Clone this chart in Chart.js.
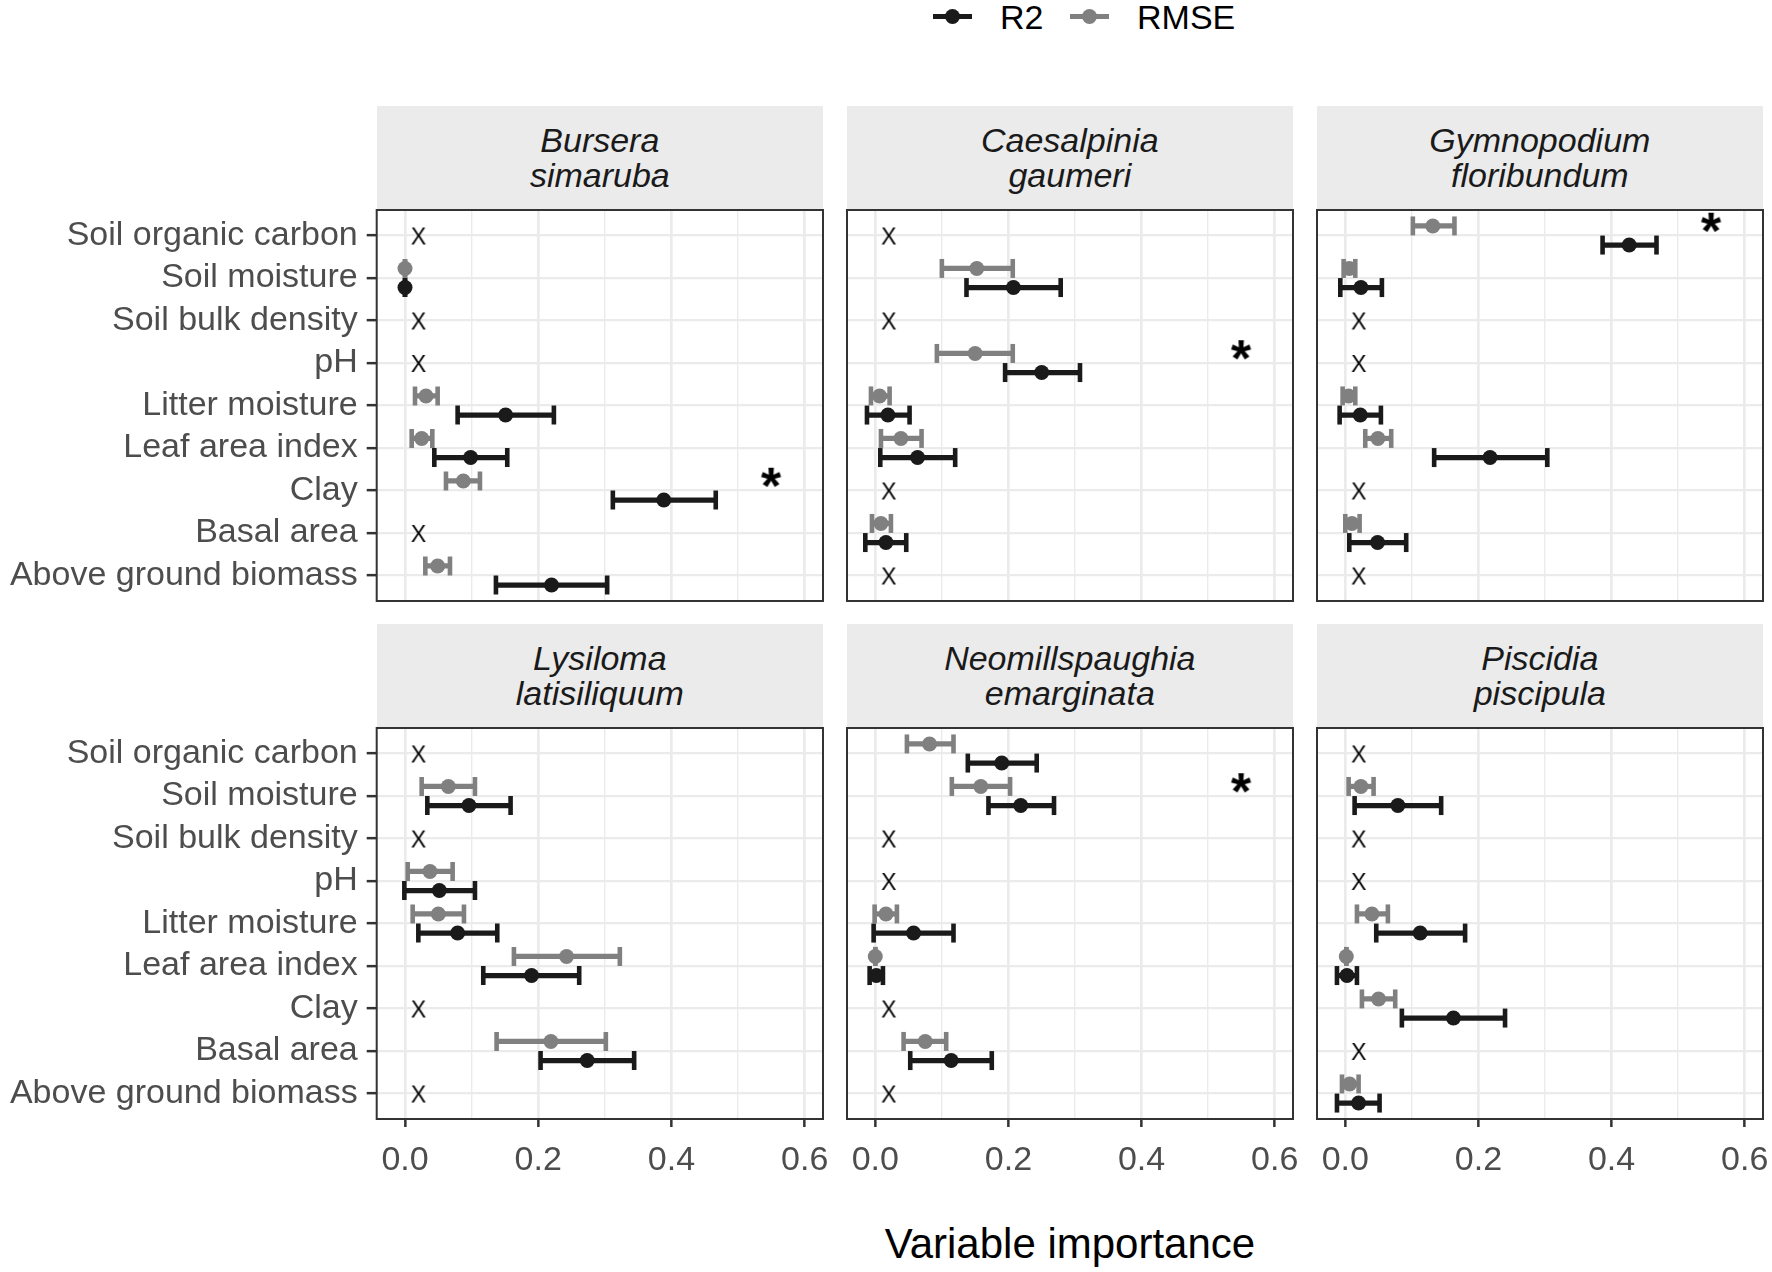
<!DOCTYPE html>
<html>
<head>
<meta charset="utf-8">
<script src="https://cdn.jsdelivr.net/npm/chart.js@4.4.1/dist/chart.umd.min.js"></script>
<style>
  body { margin: 0; background: #fff; font-family: "Liberation Sans", Arial, sans-serif; }
  #page { position: relative; width: 1772px; height: 1272px; overflow: hidden; background: #fff; }
  .strip { position: absolute; background: #ebebeb; color: #1a1a1a; font-style: italic; font-size: 34px;
           line-height: 35px; text-align: center; box-sizing: border-box; padding-top: 17px; }
  .box { position: absolute; }
  .key { position: absolute; top: 16px; width: 39px; height: 0; }
  .key i { position: absolute; left: 0; top: -2.5px; width: 39px; height: 5px; }
  .key b { position: absolute; left: 12px; top: -7.5px; width: 15px; height: 15px; border-radius: 50%; }
  .lab { position: absolute; top: 0; font-size: 34px; line-height: 34px; color: #000; }
  #xtitle { position: absolute; left: 0; width: 2140px; top: 1219px; font-size: 42px; line-height: 50px;
            text-align: center; color: #000; }
</style>
</head>
<body>
<div id="page">
  <div class="key" style="left:933px"><i style="background:#1a1a1a"></i><b style="background:#1a1a1a"></b></div>
  <span class="lab" style="left:1000px">R2</span>
  <div class="key" style="left:1070px"><i style="background:#808080"></i><b style="background:#808080"></b></div>
  <span class="lab" style="left:1137px">RMSE</span>
  <div id="xtitle">Variable importance</div>
</div>
<script>
// variables, top to bottom
const variables = ['Soil organic carbon', 'Soil moisture', 'Soil bulk density', 'pH', 'Litter moisture',
  'Leaf area index', 'Clay', 'Basal area', 'Above ground biomass'];

const species = [['Bursera', 'simaruba'], ['Caesalpinia', 'gaumeri'], ['Gymnopodium', 'floribundum'],
  ['Lysiloma', 'latisiliquum'], ['Neomillspaughia', 'emarginata'], ['Piscidia', 'piscipula']];

// null = variable not selected (drawn as X)
const r2Mean = [
  [null, 0.0, null, null, 0.151, 0.0985, 0.3885, null, 0.22],
  [null, 0.2075, null, 0.25, 0.019, 0.0635, null, 0.016, null],
  [0.4265, 0.0235, null, null, 0.0225, 0.2175, null, 0.0485, null],
  [null, 0.096, null, 0.0515, 0.079, 0.19, null, 0.2735, null],
  [0.19, 0.2185, null, null, 0.0575, 0.0015, null, 0.114, null],
  [null, 0.079, null, null, 0.1125, 0.0025, 0.1625, null, 0.02]
];
const r2Low = [
  [null, 0.0, null, null, 0.079, 0.044, 0.312, null, 0.1365],
  [null, 0.137, null, 0.195, -0.0125, 0.0075, null, -0.015, null],
  [0.3865, -0.0075, null, null, -0.0085, 0.1335, null, 0.006, null],
  [null, 0.0335, null, -0.001, 0.02, 0.1175, null, 0.2035, null],
  [0.139, 0.17, null, null, -0.0025, -0.0085, null, 0.0525, null],
  [null, 0.014, null, null, 0.0465, -0.0125, 0.085, null, -0.0125]
];
const r2High = [
  [null, 0.0, null, null, 0.2235, 0.1535, 0.4665, null, 0.3035],
  [null, 0.2785, null, 0.3075, 0.0515, 0.12, null, 0.0465, null],
  [0.4675, 0.055, null, null, 0.0535, 0.3035, null, 0.0915, null],
  [null, 0.1585, null, 0.105, 0.1385, 0.2615, null, 0.344, null],
  [0.2425, 0.2685, null, null, 0.1175, 0.0115, null, 0.175, null],
  [null, 0.144, null, null, 0.18, 0.0175, 0.24, null, 0.0515]
];
const rmseMean = [
  [null, 0.0, null, null, 0.0315, 0.025, 0.0875, null, 0.049],
  [null, 0.1525, null, 0.15, 0.0065, 0.0385, null, 0.0085, null],
  [0.1315, 0.006, null, null, 0.005, 0.049, null, 0.01, null],
  [null, 0.065, null, 0.0375, 0.05, 0.2425, null, 0.219, null],
  [0.0815, 0.1585, null, null, 0.016, 0.0, null, 0.075, null],
  [null, 0.0235, null, null, 0.04, 0.0015, 0.05, null, 0.0065]
];
const rmseLow = [
  [null, 0.0, null, null, 0.015, 0.010, 0.0615, null, 0.0305],
  [null, 0.1, null, 0.0925, -0.0065, 0.0085, null, -0.005, null],
  [0.1015, -0.0025, null, null, -0.004, 0.03, null, 0.0, null],
  [null, 0.025, null, 0.004, 0.0115, 0.1635, null, 0.1375, null],
  [0.0475, 0.115, null, null, -0.001, 0.0, null, 0.0425, null],
  [null, 0.005, null, null, 0.0175, 0.0015, 0.025, null, -0.005]
];
const rmseHigh = [
  [null, 0.0, null, null, 0.049, 0.041, 0.1125, null, 0.0675],
  [null, 0.2065, null, 0.2065, 0.0215, 0.0695, null, 0.0235, null],
  [0.164, 0.015, null, null, 0.015, 0.069, null, 0.0215, null],
  [null, 0.105, null, 0.0715, 0.0885, 0.3225, null, 0.3015, null],
  [0.1175, 0.2025, null, null, 0.0325, 0.0, null, 0.1065, null],
  [null, 0.0425, null, null, 0.064, 0.0015, 0.075, null, 0.02]
];

// row of the best model (asterisk), per species
const bestVariable = [6, 3, 0, null, 1, null];

const xTicks = [0, 0.2, 0.4, 0.6];
const xMinor = [0.1, 0.3, 0.5];

// where the X and * annotations sit, in data units
const xMarkAt = 0.02;
const starAt = 0.55;
const dodge = 0.225;

Chart.defaults.font.family = '"Liberation Sans", Arial, sans-serif';

// small glyph images used as point styles
function glyph(ch, font) {
  const c = document.createElement('canvas');
  c.width = 40; c.height = 40;
  const g = c.getContext('2d');
  g.font = font;
  g.fillStyle = '#000';
  g.textAlign = 'center';
  g.textBaseline = 'alphabetic';
  const m = g.measureText(ch);
  g.fillText(ch, 20 + (m.actualBoundingBoxLeft - m.actualBoundingBoxRight) / 2,
    20 + (m.actualBoundingBoxAscent - m.actualBoundingBoxDescent) / 2);
  return c;
}
const xGlyph = glyph('X', '23px "Liberation Sans", Arial');
const starGlyph = glyph('*', 'bold 52px "Liberation Sans", Arial');

const panelBorder = {
  id: 'panelBorder',
  afterDraw(chart) {
    const a = chart.chartArea, ctx = chart.ctx;
    ctx.save();
    ctx.strokeStyle = '#333333';
    ctx.lineWidth = 2;
    ctx.strokeRect(a.left, a.top, a.right - a.left, a.bottom - a.top);
    ctx.restore();
  }
};

// keep the plot area exactly where the layout puts it
function noPad(s) {
  s.paddingTop = 0; s.paddingBottom = 0; s.paddingLeft = 0; s.paddingRight = 0;
}

const plotLefts = [376.7, 846.7, 1316.7];
const plotTops = [210, 728];
const plotW = 446.3, plotH = 391, stripH = 104;
const page = document.getElementById('page');

function seriesSets(k, mean, low, high, color, off, order) {
  const bars = [], caps = [], pts = [];
  variables.forEach((v, i) => {
    if (mean[k][i] === null) return;
    const y = i + off;
    bars.push({ x: [low[k][i], high[k][i]], y: y });
    caps.push({ x: low[k][i], y: y }, { x: high[k][i], y: y });
    pts.push({ x: mean[k][i], y: y });
  });
  return [
    { type: 'bar', data: bars, backgroundColor: color, borderWidth: 0, barThickness: 4.6, grouped: false, order: order + 2 },
    { type: 'scatter', data: caps, pointStyle: 'line', rotation: 90, pointRadius: 9.5, borderWidth: 4.6,
      borderColor: color, backgroundColor: color, order: order + 1 },
    { type: 'scatter', data: pts, pointStyle: 'circle', pointRadius: 7.5, borderWidth: 0,
      backgroundColor: color, borderColor: color, order: order }
  ];
}

species.forEach((name, k) => {
  const r = Math.floor(k / 3), c = k % 3;
  const plotLeft = plotLefts[c], plotTop = plotTops[r];

  const strip = document.createElement('div');
  strip.className = 'strip';
  strip.style.left = plotLeft + 'px';
  strip.style.top = (plotTop - stripH) + 'px';
  strip.style.width = plotW + 'px';
  strip.style.height = stripH + 'px';
  strip.innerHTML = name[0] + '<br>' + name[1];
  page.appendChild(strip);

  const padL = 4, padT = 4, padB = 4, padR = r === 1 ? 40 : 4;
  const canvasLeft = c === 0 ? 0 : plotLeft - padL;
  const yAxisW = c === 0 ? plotLeft - padL : 0;
  const xAxisH = r === 1 ? 64 : 0;
  const w = plotLeft - canvasLeft + plotW + padR;
  const h = padT + plotH + xAxisH + padB;

  const box = document.createElement('div');
  box.className = 'box';
  box.style.left = canvasLeft + 'px';
  box.style.top = (plotTop - padT) + 'px';
  box.style.width = w + 'px';
  box.style.height = h + 'px';
  const canvas = document.createElement('canvas');
  canvas.width = w; canvas.height = h;
  canvas.style.width = w + 'px'; canvas.style.height = h + 'px';
  box.appendChild(canvas);
  page.appendChild(box);

  const marks = [];
  variables.forEach((v, i) => { if (r2Mean[k][i] === null) marks.push({ x: xMarkAt, y: i }); });
  const stars = bestVariable[k] === null ? [] : [{ x: starAt, y: bestVariable[k] - 0.3 }];

  const datasets = [
    ...seriesSets(k, rmseMean, rmseLow, rmseHigh, '#808080', -dodge, 40),
    ...seriesSets(k, r2Mean, r2Low, r2High, '#1a1a1a', dodge, 20),
    { type: 'scatter', data: marks, pointStyle: xGlyph, pointRadius: 5, order: 5 },
    { type: 'scatter', data: stars, pointStyle: starGlyph, pointRadius: 5, order: 5 }
  ];

  const isMajor = v => xTicks.includes(v);

  new Chart(canvas, {
    type: 'bar',
    data: { datasets: datasets },
    options: {
      indexAxis: 'y',
      responsive: false,
      animation: false,
      events: [],
      layout: { padding: { left: padL, right: padR, top: padT, bottom: padB }, autoPadding: false },
      plugins: { legend: { display: false }, tooltip: { enabled: false } },
      scales: {
        x: {
          type: 'linear', min: -0.0425, max: 0.6275,
          afterBuildTicks: s => { s.ticks = xTicks.concat(xMinor).sort((a, b) => a - b).map(v => ({ value: v })); },
          afterFit: s => { s.height = xAxisH; noPad(s); },
          border: { display: false },
          grid: {
            color: '#ebebeb',
            lineWidth: ctx => isMajor(ctx.tick.value) ? 2.7 : 1.4,
            drawTicks: r === 1, tickLength: 8, tickWidth: 2.5,
            tickColor: ctx => isMajor(ctx.tick.value) ? '#333333' : 'rgba(0,0,0,0)'
          },
          ticks: {
            display: r === 1, autoSkip: false, maxRotation: 0, padding: 13,
            color: '#4d4d4d', font: { size: 34 },
            callback: v => isMajor(v) ? v.toFixed(1) : ''
          }
        },
        y: {
          type: 'linear', reverse: true, min: -0.6, max: 8.6, offset: false,
          afterBuildTicks: s => { s.ticks = variables.map((v, i) => ({ value: i })); },
          afterFit: s => { s.width = yAxisW; noPad(s); },
          border: { display: false },
          grid: {
            offset: false, color: '#ebebeb', lineWidth: 2.3,
            drawTicks: c === 0, tickLength: 10, tickWidth: 2.5, tickColor: '#333333'
          },
          ticks: {
            display: c === 0, autoSkip: false, padding: 9,
            color: '#4d4d4d', font: { size: 34 },
            callback: v => variables[v]
          }
        }
      }
    },
    plugins: [panelBorder]
  });
});
</script>
</body>
</html>
